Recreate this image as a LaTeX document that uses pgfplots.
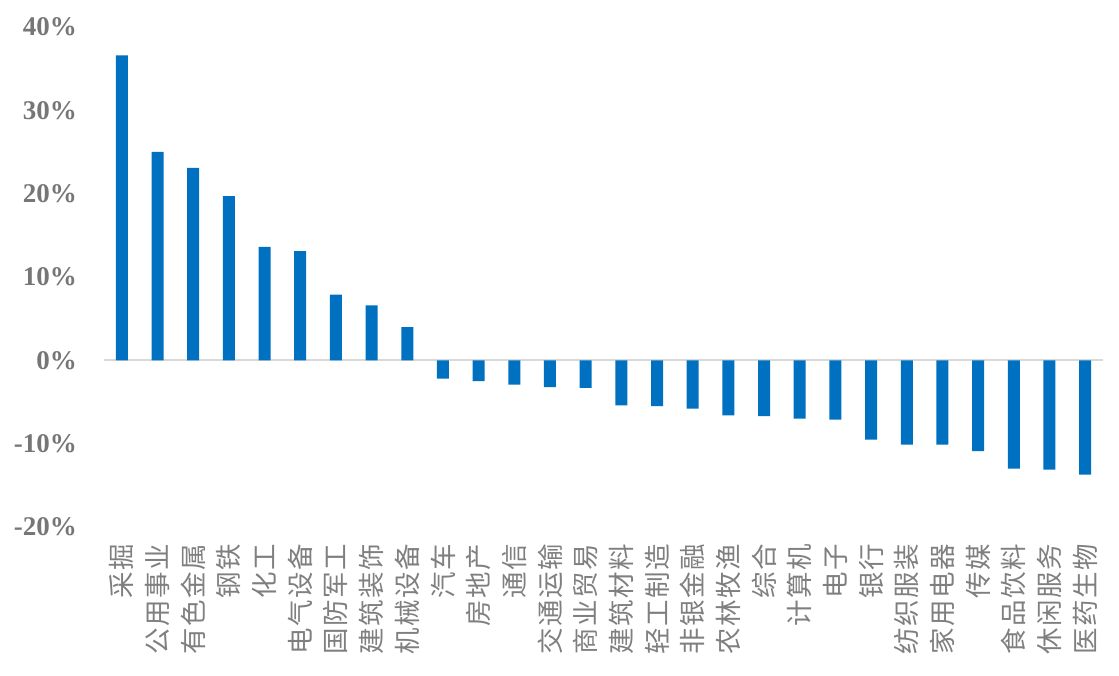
\documentclass[border=0pt]{standalone}
\usepackage{pgfplots}
\pgfplotsset{compat=1.18}
\usepackage{fontspec}
\setmainfont{Liberation Serif}
\newfontfamily\cjk[LetterSpace=5]{Noto Sans CJK SC}
\definecolor{barblue}{HTML}{0070C0}
\definecolor{ticktext}{HTML}{767676}
\definecolor{cattext}{HTML}{7F7F7F}
\definecolor{zeroline}{HTML}{D9D9D9}
\begin{document}
\begin{tikzpicture}
\begin{axis}[
  at={(104pt,148pt)}, anchor=south west,
  width=999pt, height=500pt, scale only axis,
  xmin=-0.5, xmax=27.5, ymin=-20, ymax=40,
  axis line style={draw=none}, major tick length=0pt,
  ytick={-20,-10,0,10,20,30,40},
  yticklabels={-20\%,-10\%,0\%,10\%,20\%,30\%,40\%},
  yticklabel style={font=\fontsize{27}{30}\selectfont\bfseries, text=ticktext, inner sep=0pt},
  yticklabel shift=27pt,
  xtick={0,...,27},
  xticklabels={采掘,公用事业,有色金属,钢铁,化工,电气设备,国防军工,建筑装饰,机械设备,汽车,房地产,通信,交通运输,商业贸易,建筑材料,轻工制造,非银金融,农林牧渔,综合,计算机,电子,银行,纺织服装,家用电器,传媒,食品饮料,休闲服务,医药生物},
  xticklabel style={font=\cjk\fontsize{26.5}{28}\selectfont, text=cattext, rotate=90, anchor=east, inner sep=0pt},
  xticklabel shift=17pt,
  clip=false,
]
\draw[zeroline, line width=2pt] (axis cs:-0.5,0) -- (axis cs:27.5,0);
\addplot[ybar, bar width=12pt, fill=barblue, draw=none] coordinates {
(0,36.6) (1,25.0) (2,23.1) (3,19.7) (4,13.6) (5,13.1) (6,7.9) (7,6.6) (8,4.0)
(9,-2.2) (10,-2.5) (11,-2.9) (12,-3.2) (13,-3.3) (14,-5.4) (15,-5.5) (16,-5.8)
(17,-6.6) (18,-6.7) (19,-7.0) (20,-7.1) (21,-9.5) (22,-10.1) (23,-10.1) (24,-10.9)
(25,-13.0) (26,-13.1) (27,-13.7)
};
\end{axis}
\pgfresetboundingbox
\path[use as bounding box] (0,0) rectangle (1119pt,675pt);
\end{tikzpicture}
\end{document}
